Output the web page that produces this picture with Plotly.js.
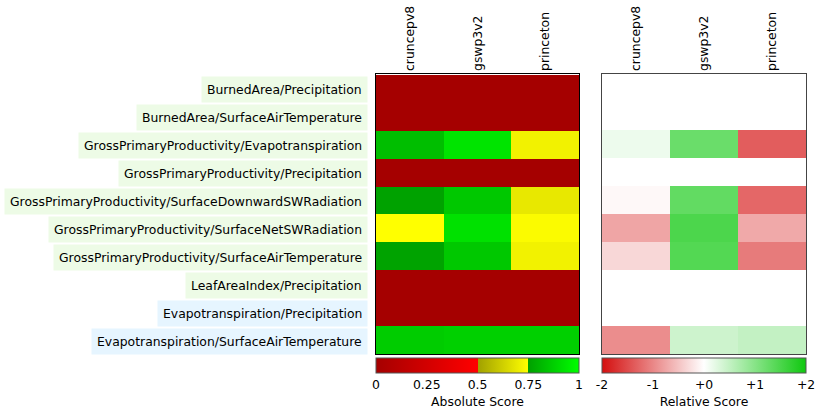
<!DOCTYPE html>
<html>
<head>
<meta charset="utf-8">
<script src="https://cdn.plot.ly/plotly-3.0.1.min.js"></script>
<style>html,body{margin:0;padding:0;background:#fff;}#chart{width:817px;height:410px;}</style>
</head>
<body>
<div id="chart"></div>
<script>
const rows = [
  "BurnedArea/Precipitation",
  "BurnedArea/SurfaceAirTemperature",
  "GrossPrimaryProductivity/Evapotranspiration",
  "GrossPrimaryProductivity/Precipitation",
  "GrossPrimaryProductivity/SurfaceDownwardSWRadiation",
  "GrossPrimaryProductivity/SurfaceNetSWRadiation",
  "GrossPrimaryProductivity/SurfaceAirTemperature",
  "LeafAreaIndex/Precipitation",
  "Evapotranspiration/Precipitation",
  "Evapotranspiration/SurfaceAirTemperature"
];
const rowGroups = ["green","green","green","green","green","green","green","green","blue","blue"];
const models = ["cruncepv8", "gswp3v2", "princeton"];

// Absolute scores per model (row order as above)
const absCruncep   = [0, 0, 0.83, 0, 0.755, 0.749, 0.757, 0, 0, 0.865];
const absGswp      = [0, 0, 0.93, 0, 0.855, 0.92, 0.855, 0, 0, 0.875];
const absPrinceton = [0, 0, 0.715, 0, 0.69, 0.74, 0.715, 0, 0, 0.875];

// Relative scores per model
const relCruncep   = [0, 0, 0.15, 0, -0.06, -0.75, -0.33, 0, 0, -0.95];
const relGswp      = [0, 0, 1.24, 0, 1.31, 1.49, 1.43, 0, 0, 0.42];
const relPrinceton = [0, 0, -1.35, 0, -1.27, -0.72, -1.1, 0, 0, 0.5];

const absTickVals = [0, 0.25, 0.5, 0.75, 1];
const absTickText = ["0", "0.25", "0.5", "0.75", "1"];
const relTickVals = [-2, -1, 0, 1, 2];
const relTickText = ["-2", "-1", "+0", "+1", "+2"];

const zAbs = rows.map((r, i) => [absCruncep[i], absGswp[i], absPrinceton[i]]);
const zRel = rows.map((r, i) => [relCruncep[i], relGswp[i], relPrinceton[i]]);

const W = 817, H = 410;
const px = v => v / W, py = v => 1 - v / H;
const FONT = "DejaVu Sans";
const FS = 12.4;

const absScale = [[0, "#a50000"], [0.5, "#ff0000"], [0.5, "#a0a000"], [0.75, "#ffff00"], [0.75, "#00a000"], [1, "#00ff00"]];
const relScale = [[0, "rgb(212,15,15)"], [0.5, "#ffffff"], [1, "rgb(15,200,15)"]];

const cbCommon = {
  orientation: "h", xanchor: "center", yanchor: "top",
  y: py(361), lenmode: "fraction", thickness: 15, thicknessmode: "pixels",
  xpad: 0, ypad: 0, ticks: "", outlinewidth: 1, outlinecolor: "#555",
  tickfont: {family: FONT, size: FS, color: "#000"}
};

const traces = [
  {
    type: "heatmap", x: models, y: rows, z: zAbs, xaxis: "x", yaxis: "y",
    colorscale: absScale, zmin: 0, zmax: 1, hoverinfo: "skip",
    colorbar: Object.assign({}, cbCommon, {
      x: px((376 + 579) / 2), len: 203 / W,
      tickvals: absTickVals, ticktext: absTickText,
      title: {text: "Absolute Score", side: "bottom", font: {family: FONT, size: FS, color: "#000"}}
    })
  },
  {
    type: "heatmap", x: models, y: rows, z: zRel, xaxis: "x2", yaxis: "y2",
    colorscale: relScale, zmin: -2, zmax: 2, hoverinfo: "skip",
    colorbar: Object.assign({}, cbCommon, {
      x: px((602 + 806) / 2), len: 204 / W,
      tickvals: relTickVals, ticktext: relTickText,
      title: {text: "Relative Score", side: "bottom", font: {family: FONT, size: FS, color: "#000"}}
    })
  }
];

const axX = (dom) => ({
  domain: dom, side: "top", tickangle: -90, showgrid: false, zeroline: false,
  ticks: "", showline: true, mirror: true, linecolor: "#000", linewidth: 1,
  tickfont: {family: FONT, size: FS, color: "#000"}, fixedrange: true
});
const axY = () => ({
  domain: [py(357), py(75)], autorange: "reversed", showticklabels: false,
  showgrid: false, zeroline: false, ticks: "", showline: true, mirror: true,
  linecolor: "#000", linewidth: 1, fixedrange: true
});

const layout = {
  width: W, height: H, margin: {l: 0, r: 0, t: 0, b: 0},
  paper_bgcolor: "#fff", plot_bgcolor: "#fff",
  font: {family: FONT, size: FS, color: "#000"},
  showlegend: false,
  xaxis: axX([px(376), px(579)]),
  yaxis: axY(),
  xaxis2: Object.assign(axX([px(602), px(806)]), {anchor: "y2", linecolor: "#444"}),
  yaxis2: Object.assign(axY(), {anchor: "x2", linecolor: "#444"}),
  annotations: rows.map((r, i) => ({
    text: r, xref: "paper", yref: "y", x: px(368), y: r, xanchor: "right", yanchor: "middle",
    yshift: -1,
    showarrow: false, bgcolor: rowGroups[i] === "blue" ? "#e6f5ff" : "#edfbe6",
    borderpad: 5, font: {family: FONT, size: FS, color: "#000"}
  }))
};

Plotly.newPlot("chart", traces, layout, {displayModeBar: false, staticPlot: true});
</script>
</body>
</html>
